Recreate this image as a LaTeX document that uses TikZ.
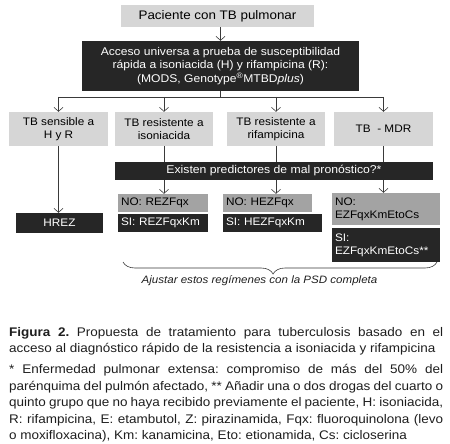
\documentclass[tikz,border=0pt]{standalone}
\usepackage{fontspec}
\setmainfont{Liberation Sans}[FakeStretch=1.08]
\usetikzlibrary{arrows.meta,decorations.pathreplacing}
\definecolor{boxlight}{HTML}{D6D6D6}
\definecolor{boxgray}{HTML}{A3A3A3}
\definecolor{boxdark}{HTML}{262626}
\definecolor{linec}{HTML}{3A3A3A}
\definecolor{capc}{HTML}{1E1E1E}
\frenchspacing

\begin{document}
\begin{tikzpicture}[
  x=1pt, y=-1pt,
  box/.style={
    inner sep=0pt, text centered,
    font=\fontsize{10.9}{13}\selectfont,
  },
  LB/.style={box, fill=boxlight, text=black, align=center},
  DB/.style={box, fill=boxdark, text=white, align=center},
  NB/.style={box, fill=boxgray, text=black, align=left, inner xsep=3pt},
  SB/.style={box, fill=boxdark, text=white, align=left, inner xsep=3pt},
  arr/.style={draw=linec, line width=0.6pt, -{Straight Barb[length=4pt, width=9pt]}},
  ln/.style={draw=linec, line width=0.6pt},
  capbox/.style={
    inner sep=0pt, text=capc, text width=434pt, align=justify,
    font=\fontsize{12.5}{16.6}\selectfont,
  },
]
\useasboundingbox (0,0) rectangle (450,444);

\def\ry{129}   % row of the four results
\def\by{97}    % branch line under the test box

% ── start and test ───────────────────────────────────────
\node[LB, minimum width=193, minimum height=22,
      font=\fontsize{12.4}{14}\selectfont] (pac) at (217.5, 16) {Paciente con TB pulmonar};
\node[DB, minimum width=277, minimum height=50,
      font=\fontsize{11.2}{13.5}\selectfont] (acc) at (220.5, 66)
  {Acceso universa a prueba de susceptibilidad\\
   rápida a isoniacida (H) y rifampicina (R):\\
   (MODS, Genotype\textsuperscript{\textregistered}MTBD\textit{plus})};
\draw[arr] (pac.south -| acc) -- (acc.north);

% ── four results ─────────────────────────────────────────
\node[LB, minimum width=99, minimum height=34] (sen) at (58.5, \ry) {TB sensible a\\H y R};
\node[LB, minimum width=98, minimum height=34] (rh)  at (164, \ry)  {TB resistente a\\isoniacida};
\node[LB, minimum width=98, minimum height=34] (rr)  at (276, \ry)  {TB resistente a\\rifampicina};
\node[LB, minimum width=99, minimum height=34] (mdr) at (383.5, \ry) {TB~ - MDR};

\coordinate (br) at (220.5, \by);
\draw[ln] (acc.south) -- (br);
\draw[ln] (br -| sen) -- (br -| mdr);
\foreach \n in {sen, rh, rr, mdr}
  \draw[arr] (br -| \n) -- (\n.north);

% ── predictors ───────────────────────────────────────────
\node[DB, minimum width=318, minimum height=18,
      font=\fontsize{11.3}{13}\selectfont] (pred) at (274, 171)
  {Existen predictores de mal pronóstico?*};
\foreach \n in {rh, rr, mdr}
  \draw[ln] (\n.south) -- (\n.south |- pred.north);

% ── regimens ─────────────────────────────────────────────
\node[DB, minimum width=87, minimum height=20] (hrez) at (59.5, 223) {HREZ};
\draw[arr] (sen.south) -- (sen.south |- hrez.north);

\node[NB, text width=84, minimum height=18] (no1) at (163, 203) {NO: REZFqx};
\node[SB, text width=84, minimum height=18] (si1) at (163, 223) {SI: REZFqxKm};
\node[NB, text width=83, minimum height=18] (no2) at (267.5, 203) {NO: HEZFqx};
\node[SB, text width=93, minimum height=18] (si2) at (272.5, 223) {SI: HEZFqxKm};
\node[NB, text width=102, minimum height=32] (no3) at (386, 209) {NO:\\EZFqxKmEtoCs};
\node[SB, text width=102, minimum height=34] (si3) at (386, 245) {SI:\\EZFqxKmEtoCs**};

\draw[arr] (pred.south -| rh)  -- (rh |- no1.north);
\draw[arr] (pred.south -| rr)  -- (rr |- no2.north);
\draw[arr] (pred.south -| mdr) -- (mdr |- no3.north);

% ── brace and note ───────────────────────────────────────
\coordinate (bl) at (123, 262);
\coordinate (bq) at (437, 262);
\draw[ln, decorate, decoration={brace, mirror, amplitude=12pt, aspect=0.478}] (bl) -- (bq);
\node[font=\fontsize{10.7}{12}\selectfont\itshape, text=capc] (ajs) at (259.5, 281)
  {Ajustar estos regímenes con la PSD completa};

% ── caption ──────────────────────────────────────────────
\node[capbox, anchor=north west] (capt) at (9, 327) {%
  \parindent=0pt\hyphenpenalty=10000\exhyphenpenalty=10000
  \textbf{Figura 2.} Propuesta de tratamiento para tuberculosis basado en el\linebreak
  acceso al diagnóstico rápido de la resistencia a isoniacida y rifampicina\par
  \vspace{4pt}%
  * Enfermedad pulmonar extensa: compromiso de más del 50\% del\linebreak
  parénquima del pulmón afectado, ** Añadir una o dos drogas del cuarto o\linebreak
  quinto grupo que no haya recibido previamente el paciente, H: isoniacida,\linebreak
  R: rifampicina, E: etambutol, Z: pirazinamida, Fqx: fluoroquinolona (levo\linebreak
  o moxifloxacina), Km: kanamicina, Eto: etionamida, Cs: cicloserina};
\end{tikzpicture}
\end{document}
